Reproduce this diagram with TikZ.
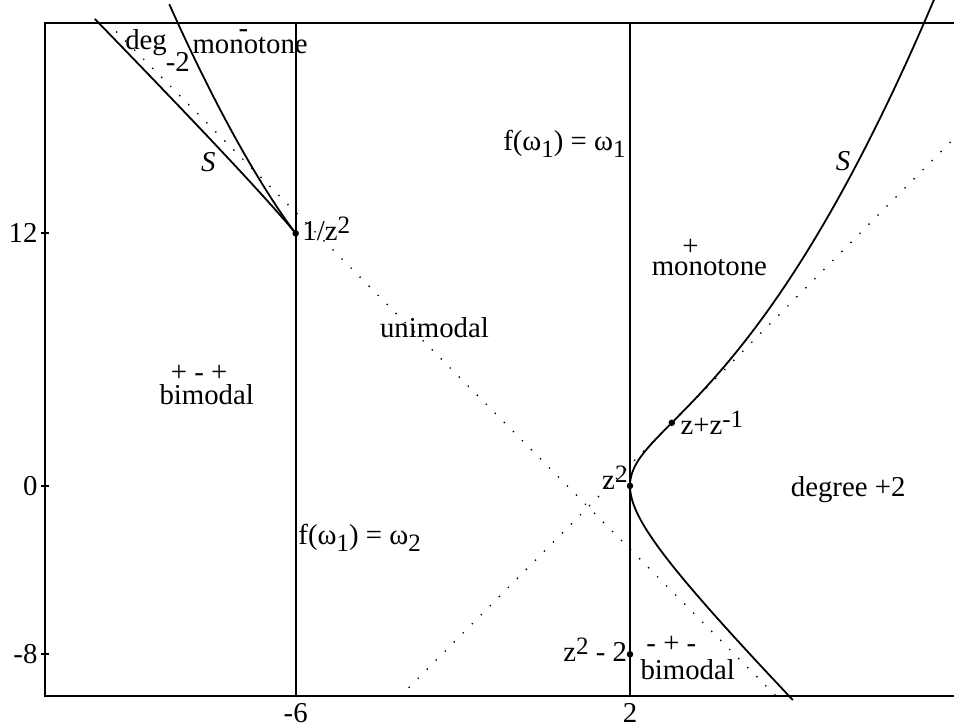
\documentclass[tikz,border=0pt]{standalone}
\usepackage{fontspec}
\setmainfont{Liberation Serif}
\usetikzlibrary{positioning}
\newcommand{\hi}[1]{\raisebox{3.5pt}{\fontsize{12.5}{12.5}\selectfont #1}}
\newcommand{\lo}[1]{\raisebox{-3.5pt}{\fontsize{12.5}{12.5}\selectfont #1}}
\tikzset{
  crit/.style={
    inner sep = 0pt,
    minimum size = 2.8pt,
    shape = circle,
    draw,
    fill
  },
  lbl/.style={
    inner sep = 0pt,
    anchor = base
  },
}
\tikzset{
  locus/.style={
    line width = 0.9pt,
  },
  boxline/.style={
    line width = 0.9pt
  },
  perline/.style={
    line width = 0.95pt,
    line cap = round,
    dash pattern = on 0pt off 6.4pt
  },
  every picture/.style = {
    font = \fontsize{14.4}{17}\selectfont
  },
}

\begin{document}
\begin{tikzpicture}[x=20.9pt,y=10.525pt]
  \clip (-13.076,-11.40) rectangle (9.753,23.09);
  \coordinate (sw) at (-12,-10);
  \coordinate (ne) at (10,22);
  \draw[boxline] (sw) rectangle (ne);
  % the two critical-orbit lines
  \foreach \s/\n in {-6/l,2/r}{
    \coordinate (b\n) at (\s,-10);
    \coordinate (t\n) at (\s,22);
    \draw[boxline] (b\n) -- (t\n);
    \node[anchor=north,inner sep=0pt] (xl\n) at (\s,-10.3) {\s};
  }
  \foreach \v/\n in {12/a,0/b,-8/c}{
    \draw[boxline] (-12.1,\v) -- (-11.9,\v);
    \node[anchor=east,inner sep=0pt] (yl\n) at (-12.17,\v) {\v};
  }
  % multiplier lines
  \coordinate (pa) at (-10.5,22);
  \coordinate (pb) at (5.5,-10);
  \coordinate (qa) at (-3.5,-10);
  \coordinate (qb) at (10,17);
  \draw[perline] (pa) -- (pb);
  \draw[perline] (qa) -- (qb);
  % symmetry locus
  \draw[locus,variable=\a,samples=150,domain=0.136:2.76,smooth]
    plot ({4*\a-2+1/\a},{4*\a*\a-4*\a+5-2/\a});
  \draw[locus,variable=\a,samples=60,domain=-0.5:-0.12,smooth]
    plot ({4*\a-2+1/\a},{4*\a*\a-4*\a+5-2/\a});
  \draw[locus,variable=\a,samples=60,domain=-1.6:-0.5,smooth]
    plot ({4*\a-2+1/\a},{4*\a*\a-4*\a+5-2/\a});
  \node[crit] (rec) at (-6,12) {};
  \node[crit] (sq) at (2,0) {};
  \node[crit] (zinv) at (3,3) {};
  \node[crit] (cheb) at (2,-8) {};
  \node[lbl,anchor=base west] (recl) at (-5.85,11.64) {1/z\hi{2}};
  \node[lbl,anchor=base west] (zinvl) at (3.20,2.42) {z+z\hi{-1}};
  \node[lbl,anchor=base east] (sql) at (1.95,-0.19) {z\hi{2}};
  \node[lbl,anchor=base east] (chebl) at (1.94,-8.35) {z\hi{2} - 2};
  % regions
  \node[lbl] (deg) at (-9.58,20.76) {deg};
  \node[lbl] (degm) at (-8.82,19.68) {-2};
  \node[lbl] (monl) at (-7.09,20.56) {monotone};
  \node[lbl] (monls) at (-7.25,21.3) {-};
  \node[lbl] (bil) at (-8.13,3.85) {bimodal};
  \node[lbl] (bils) at (-8.31,4.94) {+ - +};
  \node[lbl] (uni) at (-2.68,7.03) {unimodal};
  \node[lbl] (fix) at (0.43,15.96) {f(ω\lo{1}) = ω\lo{1}};
  \node[lbl] (per) at (-4.47,-2.80) {f(ω\lo{1}) = ω\lo{2}};
  \node[lbl] (monr) at (3.90,10.02) {monotone};
  \node[lbl] (monrs) at (3.45,10.97) {+};
  \node[lbl] (bir) at (3.38,-9.18) {bimodal};
  \node[lbl] (birs) at (2.99,-7.93) {- + -};
  \node[lbl] (degr) at (7.22,-0.52) {degree +2};
  \node[lbl] (sl) at (-8.09,14.92) {\textit{S}};
  \node[lbl] (sr) at (7.10,15.01) {\textit{S}};
\end{tikzpicture}
\end{document}
